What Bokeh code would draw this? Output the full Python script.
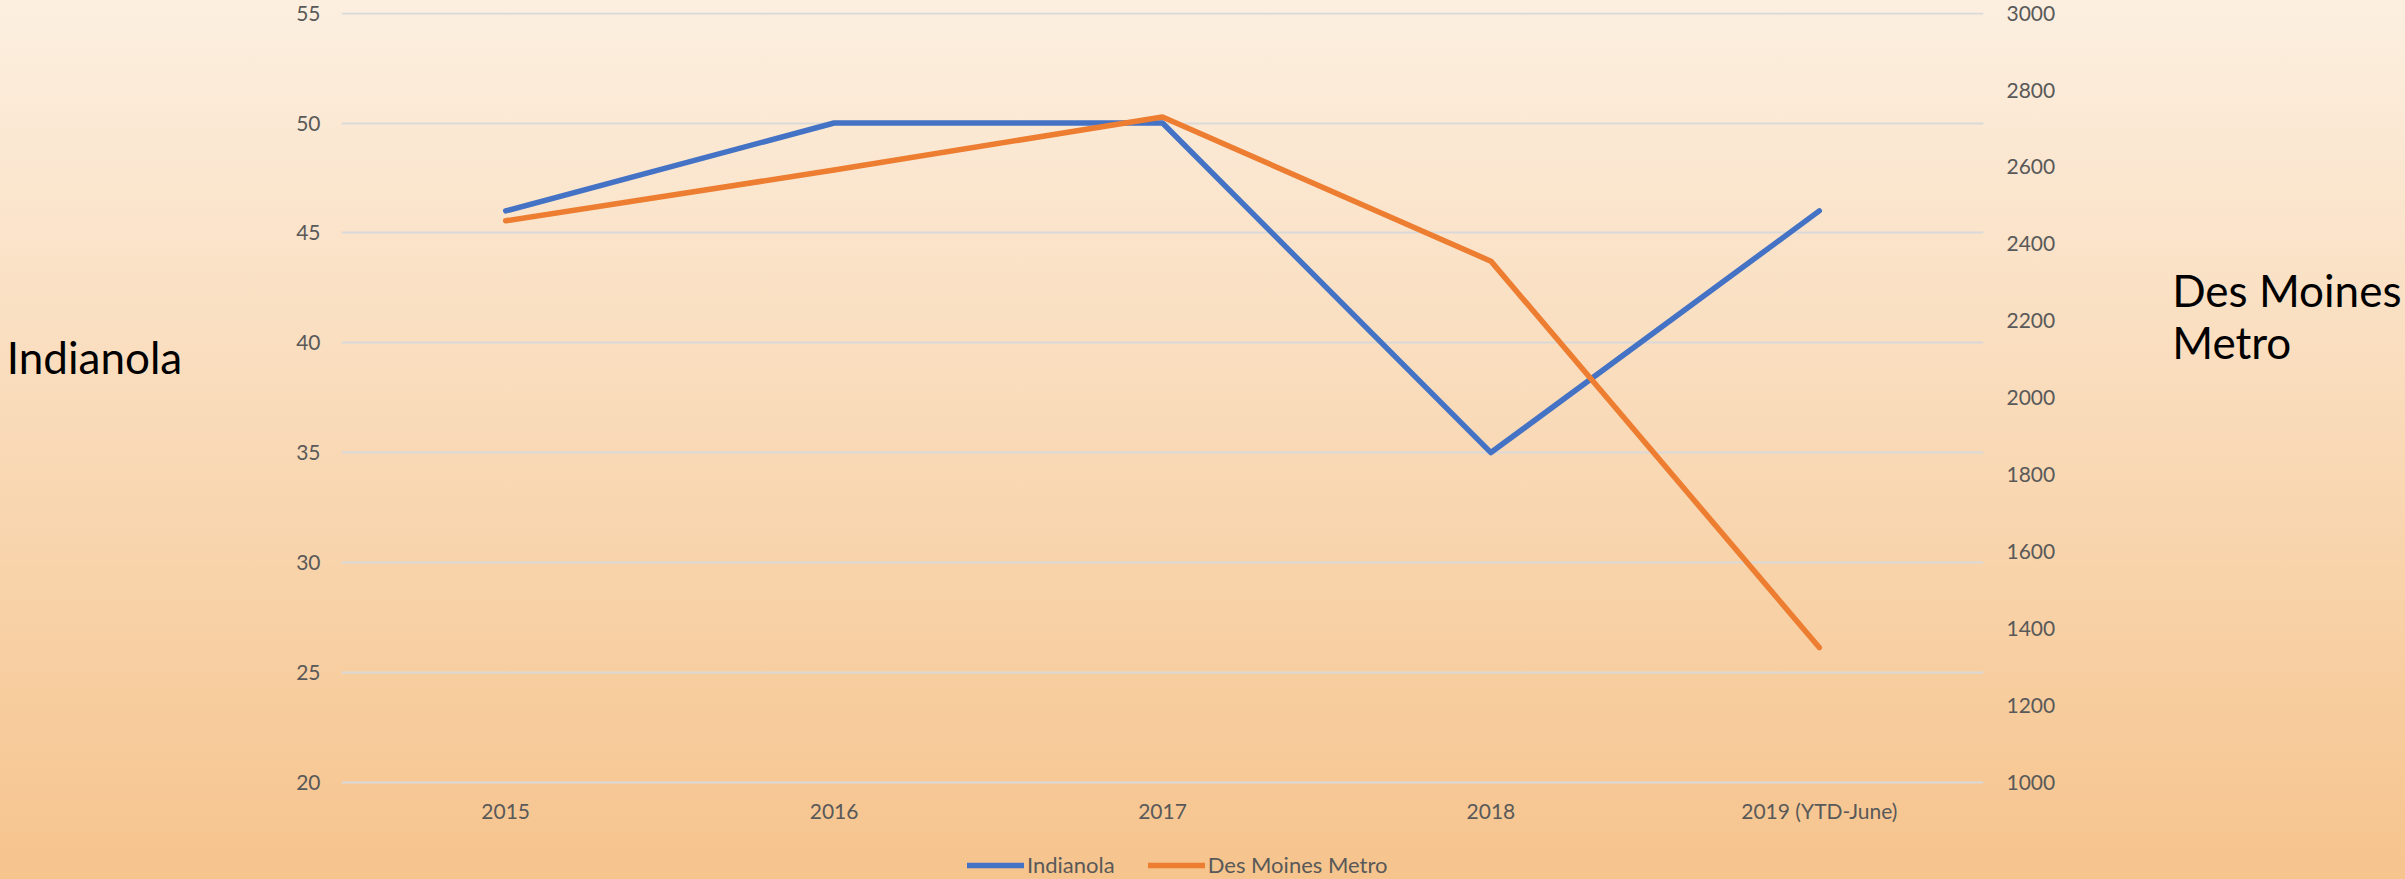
from bokeh.plotting import figure
from bokeh.models import (Range1d, LinearAxis, FixedTicker,
                          Legend, LegendItem, FactorRange)
from bokeh.embed import file_html
from bokeh.resources import INLINE

# ---- data ----
years = ["2015", "2016", "2017", "2018", "2019 (YTD-June)"]
indianola = [46, 50, 50, 35, 46]
des_moines_metro = [2460, 2592, 2730, 2355, 1350]

left_ticks = [20, 25, 30, 35, 40, 45, 50, 55]
right_ticks = [1000, 1200, 1400, 1600, 1800, 2000, 2200, 2400, 2600, 2800, 3000]

left_axis_title = "Indianola"
right_axis_title = "Des Moines\nMetro"

FONT = "Lato"
TICK_COLOR = "#595959"
BLUE = "#4472C4"
ORANGE = "#ED7D31"

# frame: top at 12px, extends to the bottom of the canvas so that the
# legend can sit inside it; the value ranges are widened accordingly
p = figure(x_range=FactorRange(*years, range_padding=0),
           y_range=Range1d(15.615, 55.03),
           width=2404, height=878,
           output_backend="svg", toolbar_location=None,
           min_border_left=341, min_border_right=419,
           min_border_top=12, min_border_bottom=0)

p.background_fill_color = None
p.border_fill_color = None
p.outline_line_color = None

p.extra_y_ranges = {"right": Range1d(749.4, 3001.7)}

# left axis
yax = p.yaxis[0]
yax.ticker = FixedTicker(ticks=left_ticks)
yax.axis_line_color = None
yax.major_tick_line_color = None
yax.minor_tick_line_color = None
yax.major_label_standoff = 15
yax.major_label_text_font = FONT
yax.major_label_text_font_size = "21px"
yax.major_label_text_color = TICK_COLOR
yax.axis_label = left_axis_title + "\n\n\n"
yax.axis_label_orientation = "horizontal"
yax.axis_label_standoff = 111
yax.axis_label_text_font = FONT
yax.axis_label_text_font_style = "normal"
yax.axis_label_text_font_size = "44px"
yax.axis_label_text_color = "#000000"
yax.axis_label_text_line_height = 1.136

# right axis
rax = LinearAxis(y_range_name="right", ticker=FixedTicker(ticks=right_ticks))
rax.axis_line_color = None
rax.major_tick_line_color = None
rax.minor_tick_line_color = None
rax.major_label_standoff = 17
rax.major_label_text_font = FONT
rax.major_label_text_font_size = "21px"
rax.major_label_text_color = TICK_COLOR
rax.axis_label = right_axis_title + "\n\n\n\n\n"
rax.axis_label_orientation = "horizontal"
rax.axis_label_standoff = 114
rax.axis_label_text_font = FONT
rax.axis_label_text_font_style = "normal"
rax.axis_label_text_font_size = "44px"
rax.axis_label_text_color = "#000000"
rax.axis_label_text_line_height = 1.0
p.add_layout(rax, "right")

# x axis, pinned at the bottom of the value scale
xax = p.xaxis[0]
xax.fixed_location = left_ticks[0]
xax.axis_line_color = None
xax.major_tick_line_color = None
xax.major_label_standoff = 10
xax.major_label_text_font = FONT
xax.major_label_text_font_size = "21px"
xax.major_label_text_color = TICK_COLOR

p.xgrid.grid_line_color = None
p.ygrid.grid_line_color = "#D9D9D9"
p.ygrid.grid_line_width = 2
p.ygrid.ticker = yax.ticker

r1 = p.line(years, indianola, line_color=BLUE, line_width=5.5,
            line_join="round", line_cap="round")
r2 = p.line(years, des_moines_metro, y_range_name="right", line_color=ORANGE,
            line_width=5.5, line_join="round", line_cap="round")

legend = Legend(items=[LegendItem(label="Indianola", renderers=[r1]),
                       LegendItem(label="Des Moines Metro", renderers=[r2])],
                orientation="horizontal", location=(626, 0),
                background_fill_alpha=0, border_line_alpha=0,
                padding=0, margin=0, spacing=33,
                glyph_width=57, glyph_height=24, label_height=24,
                label_standoff=3,
                label_text_font=FONT, label_text_font_size="22px",
                label_text_color=TICK_COLOR)
p.add_layout(legend)

html = file_html(p, INLINE)
css = ("<style>html{height:100%;background:linear-gradient(180deg,#FCEFE0 0%,"
       "#F6C48D 100%) no-repeat;background-size:100% 100%;}"
       "body{background:transparent;}</style>")
html = html.replace("<head>", "<head>" + css, 1)
open("out.html", "w").write(html)
